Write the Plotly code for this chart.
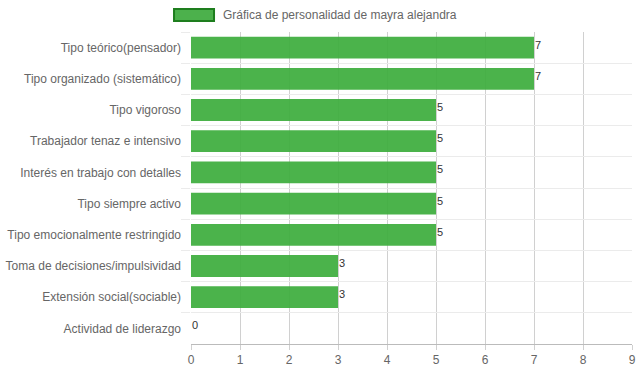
import plotly.graph_objects as go

categories = [
    "Tipo teórico(pensador)",
    "Tipo organizado (sistemático)",
    "Tipo vigoroso",
    "Trabajador tenaz e intensivo",
    "Interés en trabajo con detalles",
    "Tipo siempre activo",
    "Tipo emocionalmente restringido",
    "Toma de decisiones/impulsividad",
    "Extensión social(sociable)",
    "Actividad de liderazgo",
]
values = [7, 7, 5, 5, 5, 5, 5, 3, 3, 0]
series_name = "Gráfica de personalidad de mayra alejandra"
x_ticks = [0, 1, 2, 3, 4, 5, 6, 7, 8, 9]

FONT = "Liberation Sans, Arial, sans-serif"

fig = go.Figure()
fig.add_trace(go.Bar(
    y=categories, x=values, orientation="h",
    marker=dict(color="rgba(60,172,60,0.92)", line=dict(width=0)),
    name=series_name, showlegend=False, hoverinfo="skip",
))

for c, v in zip(categories, values):
    fig.add_annotation(x=v, y=c, text=str(v), showarrow=False,
                       xanchor="left", yanchor="middle", xshift=-1, yshift=3,
                       font=dict(family=FONT, size=11, color="#333"))

# legend box
fig.add_shape(type="rect", xref="paper", yref="paper",
              x0=-0.0385, x1=0.0522, y0=1.0353, y1=1.0737,
              fillcolor="#4cb14c", line=dict(color="#1e7e1e", width=2))
fig.add_annotation(xref="paper", yref="paper", x=0.068, y=1.0545,
                   text=series_name, showarrow=False, xanchor="left", yanchor="middle",
                   font=dict(family=FONT, size=12, color="#666"))

fig.update_layout(
    width=639, height=372,
    margin=dict(l=191, r=7, t=32, b=28, autoexpand=False),
    paper_bgcolor="white", plot_bgcolor="white",
    bargap=0.3,
    font=dict(family=FONT, size=12, color="#666"),
    xaxis=dict(range=[0, 9], tickvals=x_ticks, showgrid=True, gridcolor="#d0d0d0",
               gridwidth=1, zeroline=False, showline=True, linecolor="#bbb",
               ticks="outside", ticklen=5, tickcolor="#d0d0d0", automargin=False,
               tickfont=dict(family=FONT, size=12, color="#666"), fixedrange=True),
    yaxis=dict(autorange="reversed", type="category", tickson="boundaries",
               showgrid=True, gridcolor="#ebebeb", gridwidth=1, zeroline=False,
               showline=False, ticks="outside", ticklen=9, tickcolor="#ebebeb",
               ticklabelstandoff=9, automargin=False,
               tickfont=dict(family=FONT, size=12, color="#666"), fixedrange=True),
)

fig.write_html("out.html", config={"displayModeBar": False},
               post_script="document.body.style.margin='0';")
